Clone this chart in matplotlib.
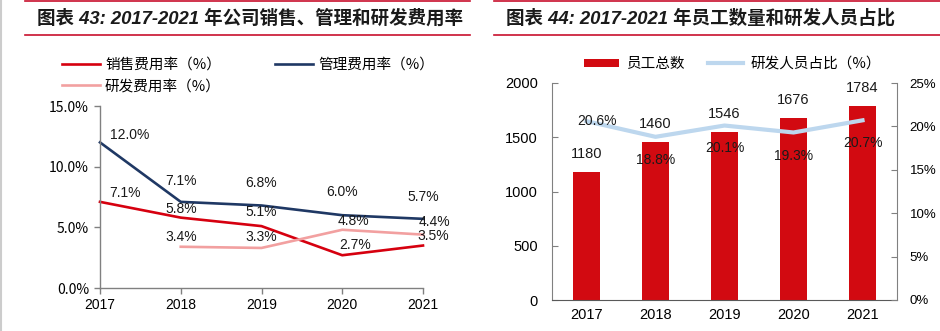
import numpy as np
import matplotlib
matplotlib.use('Agg')
import matplotlib.pyplot as plt
from matplotlib.lines import Line2D
from matplotlib.ticker import FuncFormatter

# Chart data
years = ['2017', '2018', '2019', '2020', '2021']
sales_rate = [7.1, 5.8, 5.1, 2.7, 3.5]
admin_rate = [12.0, 7.1, 6.8, 6.0, 5.7]
rd_rate = [np.nan, 3.4, 3.3, 4.8, 4.4]
staff_total = [1180, 1460, 1546, 1676, 1784]
rd_staff_share = [20.6, 18.8, 20.1, 19.3, 20.7]

# Figure size in pixels
W, H = 940, 331
RED = '#D6000F'
NAVY = '#1F3864'
PINK = '#F2A0A0'
LIGHT_BLUE = '#BDD7EE'
HEADER_RED = '#C8102E'
SPINE_GRAY = '#808080'

CJK = ['Noto Sans CJK SC', 'DejaVu Sans']
LATIN = ['Liberation Sans', 'DejaVu Sans']

plt.rcParams['font.family'] = CJK
plt.rcParams['axes.unicode_minus'] = False


def px_axes(fig, left, top, right, bottom):
    """Add axes from pixel edges (top-left origin)"""
    return fig.add_axes([left / W, 1 - bottom / H, (right - left) / W, (bottom - top) / H])


def header(fig, x0, x1, title):
    fig.add_artist(Line2D([x0 / W, x1 / W], [1 - 1 / H, 1 - 1 / H], color=HEADER_RED, lw=1.2))
    fig.add_artist(Line2D([x0 / W, x1 / W], [1 - 35 / H, 1 - 35 / H], color=HEADER_RED, lw=1.2))
    fig.text((x0 + 12) / W, 1 - 18 / H, title, fontsize=13.3, fontweight='bold', style='italic',
             family=['Liberation Sans', 'Noto Sans CJK SC'], va='center', ha='left', color='#1a1a1a')


fig = plt.figure(figsize=(W / 100, H / 100), dpi=100)

# faint page border on the left edge
fig.add_artist(Line2D([0.5 / W, 0.5 / W], [0, 1], color='#CCCCCC', lw=1.5))

header(fig, 25, 470, '图表 43: 2017-2021 年公司销售、管理和研发费用率')
header(fig, 494, 940, '图表 44: 2017-2021 年员工数量和研发人员占比')

# ---- left chart: expense ratios ----
ax1 = px_axes(fig, 100, 106, 423, 288)
x = np.arange(len(years))
l_sales, = ax1.plot(x, sales_rate, color=RED, lw=1.9, label='销售费用率（%）')
l_admin, = ax1.plot(x, admin_rate, color=NAVY, lw=1.9, label='管理费用率（%）')
l_rd, = ax1.plot(x, rd_rate, color=PINK, lw=1.9, label='研发费用率（%）')

ax1.set_xlim(0, 4)
ax1.set_ylim(0, 15)
ax1.set_yticks([0, 5, 10, 15])
ax1.yaxis.set_major_formatter(FuncFormatter(lambda v, p: f'{v:.1f}%'))
ax1.set_xticks(x)
ax1.set_xticklabels(years)
for s in ['top', 'right']:
    ax1.spines[s].set_visible(False)
for s in ['left', 'bottom']:
    ax1.spines[s].set_color(SPINE_GRAY)
    ax1.spines[s].set_linewidth(1.0)
ax1.tick_params(axis='both', direction='out', length=4, color=SPINE_GRAY, width=1.0)
ax1.tick_params(axis='x', labelsize=10, pad=3)
ax1.tick_params(axis='y', labelsize=10, pad=4)
for t in ax1.get_xticklabels():
    t.set_family(LATIN)
for ln in (l_sales, l_admin, l_rd):
    ln.set_clip_on(False)

# label offsets in pixels, per series
sales_off = [(25, 9), (0, 9), (0, 14), (13, 10), (10, 10)]
admin_off = [(30, 7), (0, 21), (0, 22), (0, 23), (0, 22)]
rd_off = [(0, 0), (0, 10), (0, 11), (11, 9), (11, 13)]
for vals, offs in ((sales_rate, sales_off), (admin_rate, admin_off), (rd_rate, rd_off)):
    for i, v in enumerate(vals):
        if np.isnan(v):
            continue
        ax1.annotate(f'{v:.1f}%', (x[i], v), xytext=offs[i], textcoords='offset pixels',
                     ha='center', va='center', fontsize=10, family=LATIN, color='#1a1a1a')

# column-major fill: sales / R&D in column one, admin in column two
ax1.legend(handles=[l_sales, l_rd, l_admin], ncol=2, loc='upper left',
           bbox_to_anchor=(62 / W, 1 - 58 / H), bbox_transform=fig.transFigure,
           frameon=False, fontsize=10.5, handlelength=2.6, handletextpad=0.35,
           columnspacing=3.7, labelspacing=0.5, borderpad=0, borderaxespad=0)

# ---- right chart: staff count and R&D share ----
ax2 = px_axes(fig, 552, 83, 897, 300)
bars = ax2.bar(x, staff_total, width=0.4, color='#D20A11', label='员工总数')
ax2.set_xlim(-0.5, 4.5)
ax2.set_ylim(0, 2000)
ax2.set_yticks([0, 500, 1000, 1500, 2000])
ax2.set_xticks(x)
ax2.set_xticklabels(years)
for s in ['top', 'right']:
    ax2.spines[s].set_visible(False)
ax2.spines['left'].set_color(SPINE_GRAY)
ax2.spines['bottom'].set_color('#595959')
ax2.tick_params(axis='y', direction='in', length=4, color=SPINE_GRAY, labelsize=10.5, pad=10)
ax2.tick_params(axis='x', length=0, labelsize=10.5, pad=6)
for t in ax2.get_xticklabels() + ax2.get_yticklabels():
    t.set_family(LATIN)
for b, v in zip(bars, staff_total):
    ax2.annotate(f'{v}', (b.get_x() + b.get_width() / 2, v), xytext=(0, 18),
                 textcoords='offset pixels', ha='center', va='center',
                 fontsize=10.5, family=LATIN, color='#1a1a1a')

ax3 = ax2.twinx()
l_share, = ax3.plot(x, rd_staff_share, color=LIGHT_BLUE, lw=3, label='研发人员占比（%）')
ax3.set_ylim(0, 25)
ax3.set_yticks([0, 5, 10, 15, 20, 25])
ax3.yaxis.set_major_formatter(FuncFormatter(lambda v, p: f'{v:.0f}%'))
for s in ['top', 'left', 'bottom']:
    ax3.spines[s].set_visible(False)
ax3.spines['right'].set_color(SPINE_GRAY)
ax3.tick_params(axis='y', direction='in', length=4, color=SPINE_GRAY, labelsize=9.5, pad=9)
for t in ax3.get_yticklabels():
    t.set_family(LATIN)

share_off = [(11, 0), (0, -23), (0, -22), (0, -24), (0, -23)]
for i, v in enumerate(rd_staff_share):
    ax3.annotate(f'{v:.1f}%', (x[i], v), xytext=share_off[i], textcoords='offset pixels',
                 ha='center', va='center', fontsize=10, family=LATIN, color='#1a1a1a')

ax3.legend(handles=[bars, l_share], ncol=2, loc='upper left',
           bbox_to_anchor=(584 / W, 1 - 57 / H), bbox_transform=fig.transFigure,
           frameon=False, fontsize=10.5, handlelength=2.4, handleheight=0.5,
           handletextpad=0.5, columnspacing=1.6, borderpad=0, borderaxespad=0)

fig.savefig('out.png', dpi=100)
